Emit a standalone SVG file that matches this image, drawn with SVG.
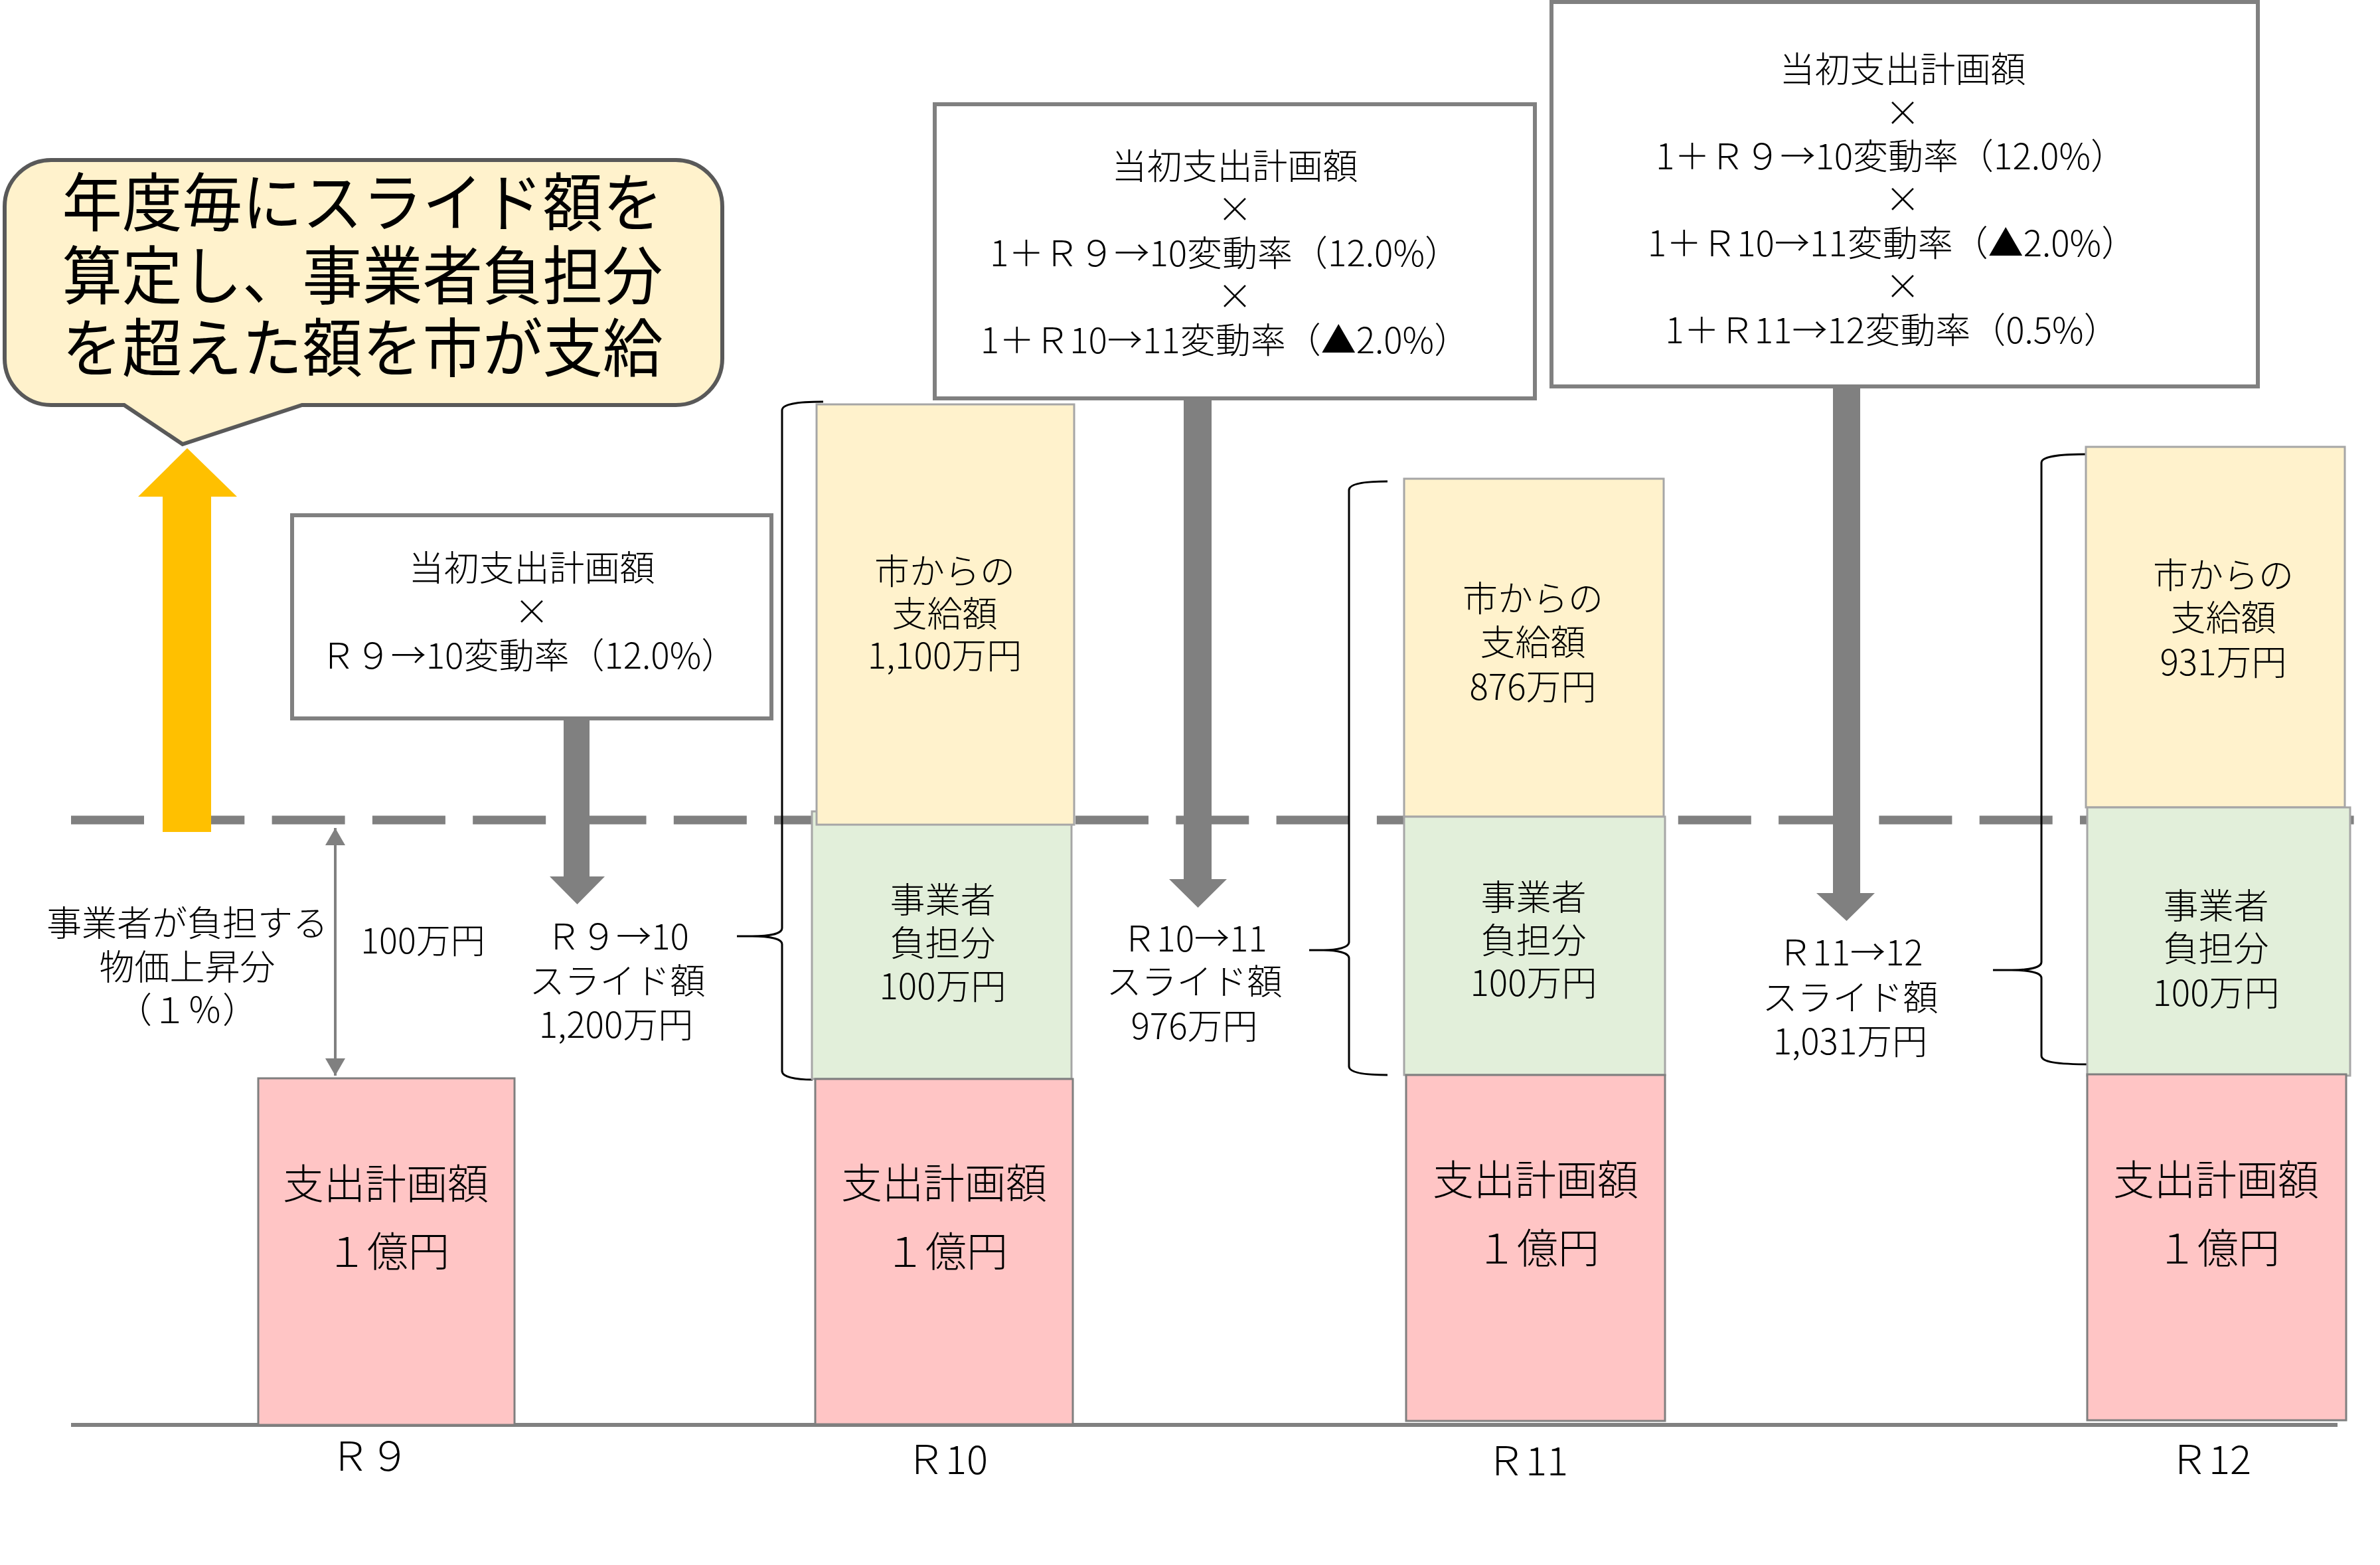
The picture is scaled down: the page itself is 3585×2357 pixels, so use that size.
<svg xmlns="http://www.w3.org/2000/svg" width="3585" height="2357" viewBox="0 0 3585 2357">
<defs>
<style>
text{font-family:"Noto Sans CJK JP","Noto Sans",sans-serif;fill:#000;text-anchor:middle;font-weight:300}
.t52{font-size:52px}
.t53{font-size:53px}
.t62{font-size:62px}
.t60{font-size:60px}
.big{font-size:96px;font-weight:400}
.fbox{fill:#fff;stroke:#808080;stroke-width:6}
.yel{fill:#FFF2CC;stroke:#A6A6A6;stroke-width:3}
.grn{fill:#E2EFDA;stroke:#A6A6A6;stroke-width:3}
.pnk{fill:#FFC5C5;stroke:#7F7F7F;stroke-width:3}
.garrow{fill:#808080}
.brace{fill:none;stroke:#000;stroke-width:3}
</style>
<marker id="ah" viewBox="0 0 26 30" refX="26" refY="15" markerWidth="26" markerHeight="30" markerUnits="userSpaceOnUse" orient="auto-start-reverse">
<path d="M0,0 L26,15 L0,30 Z" fill="#808080"/>
</marker>
</defs>
<rect width="3585" height="2357" fill="#fff"/>

<g id="guides">
<line x1="107" y1="1235" x2="3547" y2="1235" stroke="#808080" stroke-width="13" stroke-dasharray="110 41.3"/>
<line x1="107" y1="2146" x2="3521" y2="2146" stroke="#808080" stroke-width="6"/>
</g>

<g id="connectors">
<polygon id="arrow-yellow" fill="#FFC000" points="245,1253 245,748 208,748 282,675 357,748 318,748 318,1253"/>
<polygon id="arrow-r9-10" class="garrow" points="849,1083 888,1083 888,1320 911,1320 869.5,1362 828,1320 849,1320"/>
<polygon id="arrow-r10-11" class="garrow" points="1783,600 1825,600 1825,1324 1848,1324 1804.5,1367 1761,1324 1783,1324"/>
<polygon id="arrow-r11-12" class="garrow" points="2761,582 2802,582 2802,1345 2824,1345 2781.5,1387 2736,1345 2761,1345"/>
<line id="arrow-100" x1="505" y1="1247" x2="505" y2="1620" stroke="#808080" stroke-width="4" marker-start="url(#ah)" marker-end="url(#ah)"/>
<path id="brace-r10" class="brace" d="M1240,605 C1198,605 1178,609 1178,618 V1398 C1178,1406 1160,1410 1133,1410 H1110 M1133,1410 C1160,1410 1178,1414 1178,1422 V1613 C1178,1622 1198,1626 1224,1626"/>
<path id="brace-r11" class="brace" d="M2090,725 C2052,725 2032,729 2032,738 V1419 C2032,1427 2014,1431 1994,1431 H1972 M1994,1431 C2014,1431 2032,1435 2032,1443 V1606 C2032,1615 2052,1619 2090,1619"/>
<path id="brace-r12" class="brace" d="M3148,684 C3095,684 3075,688 3075,697 V1449 C3075,1457 3057,1461 3030,1461 H3002 M3030,1461 C3057,1461 3075,1465 3075,1473 V1590 C3075,1599 3095,1603 3150,1603"/>
</g>

<g id="callout">
<path d="M77,241 H1018 A70,70 0 0 1 1088,311 V540 A70,70 0 0 1 1018,610 H455 L275,669 L187,610 H77 A70,70 0 0 1 7,540 V311 A70,70 0 0 1 77,241 Z" fill="#FFF2CC" stroke="#595959" stroke-width="6"/>
<text class="big"><tspan x="546" y="340" textLength="905" lengthAdjust="spacingAndGlyphs">年度毎にスライド額を</tspan><tspan x="546" y="450" textLength="905" lengthAdjust="spacingAndGlyphs">算定し、事業者負担分</tspan><tspan x="546" y="559" textLength="905" lengthAdjust="spacingAndGlyphs">を超えた額を市が支給</tspan></text>
</g>

<g id="formula-r10">
<rect class="fbox" x="440" y="776" width="722" height="306"/>
<text class="t53"><tspan x="801" y="875">当初支出計画額</tspan><tspan x="801" y="941">×</tspan><tspan x="796" y="1007">Ｒ９→10変動率（12.0%）</tspan></text>
</g>

<g id="formula-r11">
<rect class="fbox" x="1408" y="157" width="904" height="443"/>
<text class="t53"><tspan x="1860" y="270">当初支出計画額</tspan><tspan x="1860" y="335">×</tspan><tspan x="1845" y="401">1＋Ｒ９→10変動率（12.0%）</tspan><tspan x="1860" y="466">×</tspan><tspan x="1845" y="532">1＋Ｒ10→11変動率（▲2.0%）</tspan></text>
</g>

<g id="formula-r12">
<rect class="fbox" x="2337" y="3" width="1064" height="579"/>
<text class="t53"><tspan x="2866" y="124">当初支出計画額</tspan><tspan x="2866" y="190">×</tspan><tspan x="2848" y="255">1＋Ｒ９→10変動率（12.0%）</tspan><tspan x="2866" y="320">×</tspan><tspan x="2850" y="386">1＋Ｒ10→11変動率（▲2.0%）</tspan><tspan x="2866" y="451">×</tspan><tspan x="2850" y="517">1＋Ｒ11→12変動率（0.5%）</tspan></text>
</g>

<g id="label-burden">
<text class="t53"><tspan x="282" y="1410">事業者が負担する</tspan><tspan x="282" y="1476">物価上昇分</tspan><tspan x="282" y="1541">（１％）</tspan></text>
</g>
<g id="label-100">
<text class="t52" x="637" y="1436">100万円</text>
</g>

<g id="slide-r9-10">
<text class="t53"><tspan x="930" y="1430">Ｒ９→10</tspan><tspan x="930" y="1497">スライド額</tspan><tspan x="928" y="1563">1,200万円</tspan></text>
</g>
<g id="slide-r10-11">
<text class="t53"><tspan x="1799" y="1433">Ｒ10→11</tspan><tspan x="1799" y="1498">スライド額</tspan><tspan x="1799" y="1565">976万円</tspan></text>
</g>
<g id="slide-r11-12">
<text class="t53"><tspan x="2787" y="1454">Ｒ11→12</tspan><tspan x="2787" y="1522">スライド額</tspan><tspan x="2787" y="1588">1,031万円</tspan></text>
</g>

<g id="bar-r9">
<rect class="pnk" x="389" y="1624" width="386" height="522"/>
<text class="t62"><tspan x="581" y="1806">支出計画額</tspan><tspan x="584" y="1908">１億円</tspan></text>
</g>

<g id="bar-r10">
<rect class="grn" x="1223" y="1222" width="391" height="403"/>
<rect class="yel" x="1230" y="609" width="388" height="633"/>
<rect class="pnk" x="1228" y="1625" width="388" height="520"/>
<text class="t53"><tspan x="1423" y="880">市からの</tspan><tspan x="1423" y="944">支給額</tspan><tspan x="1423" y="1007">1,100万円</tspan></text>
<text class="t53"><tspan x="1420" y="1375">事業者</tspan><tspan x="1420" y="1440">負担分</tspan><tspan x="1420" y="1505">100万円</tspan></text>
<text class="t62"><tspan x="1422" y="1805">支出計画額</tspan><tspan x="1425" y="1908">１億円</tspan></text>
</g>

<g id="bar-r11">
<rect class="yel" x="2115" y="721" width="391" height="509"/>
<rect class="grn" x="2115" y="1230" width="393" height="389"/>
<rect class="pnk" x="2118" y="1619" width="390" height="521"/>
<text class="t53"><tspan x="2309" y="921">市からの</tspan><tspan x="2309" y="987">支給額</tspan><tspan x="2309" y="1054">876万円</tspan></text>
<text class="t53"><tspan x="2310" y="1371">事業者</tspan><tspan x="2310" y="1436">負担分</tspan><tspan x="2310" y="1500">100万円</tspan></text>
<text class="t62"><tspan x="2313" y="1800">支出計画額</tspan><tspan x="2316" y="1903">１億円</tspan></text>
</g>

<g id="bar-r12">
<rect class="yel" x="3142" y="673" width="390" height="543"/>
<rect class="grn" x="3144" y="1216" width="396" height="404"/>
<rect class="pnk" x="3144" y="1618" width="390" height="521"/>
<text class="t53"><tspan x="3349" y="886">市からの</tspan><tspan x="3349" y="950">支給額</tspan><tspan x="3349" y="1017">931万円</tspan></text>
<text class="t53"><tspan x="3338" y="1384">事業者</tspan><tspan x="3338" y="1448">負担分</tspan><tspan x="3338" y="1515">100万円</tspan></text>
<text class="t62"><tspan x="3338" y="1800">支出計画額</tspan><tspan x="3341" y="1903">１億円</tspan></text>
</g>

<g id="axis-labels">
<text class="t60" x="557" y="2215">Ｒ９</text>
<text class="t60" x="1426" y="2220">Ｒ10</text>
<text class="t60" x="2300" y="2222">Ｒ11</text>
<text class="t60" x="3329" y="2220">Ｒ12</text>
</g>
</svg>
